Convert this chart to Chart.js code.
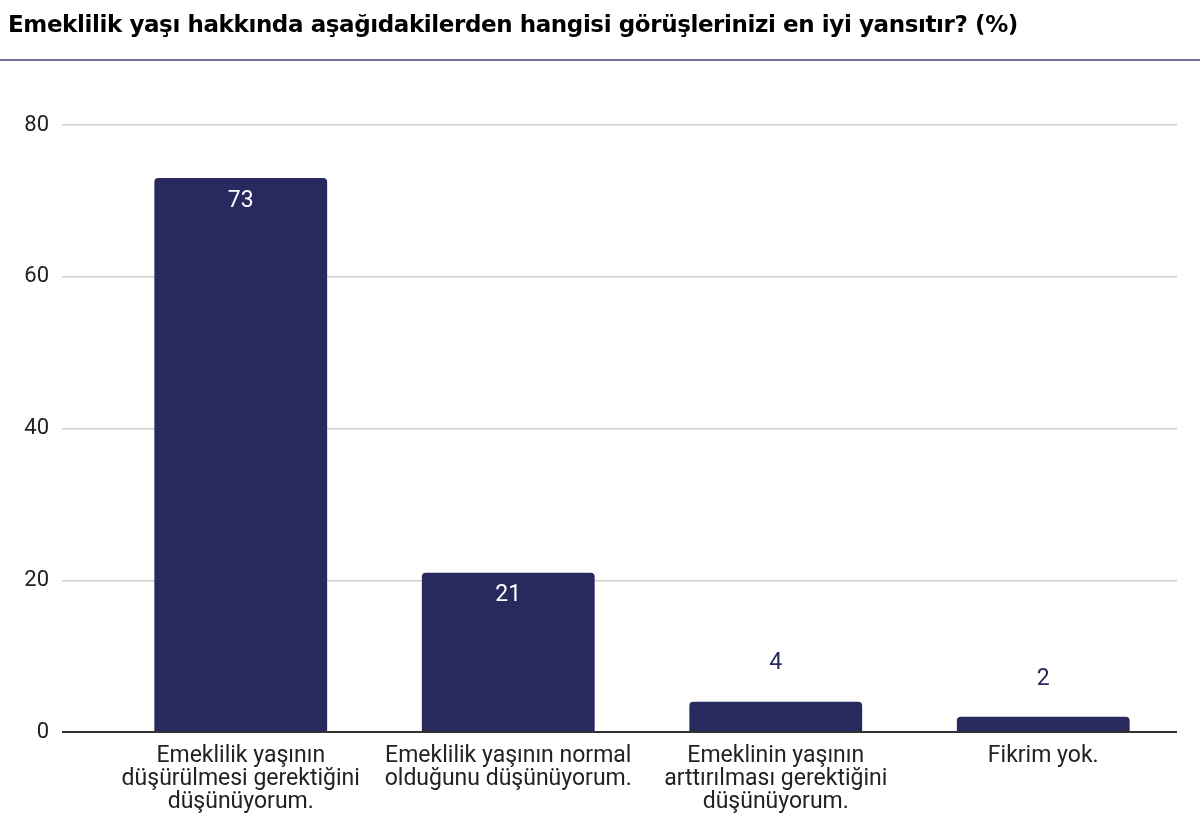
<!DOCTYPE html>
<html>
<head>
<meta charset="utf-8">
<script src="https://cdn.jsdelivr.net/npm/chart.js@4"></script>
<style>
  body { margin: 0; background: #fff; }
  #title {
    position: absolute; left: 8px; top: 11px;
    font-family: "DejaVu Sans", sans-serif; font-weight: bold;
    font-size: 23px; color: #000; white-space: nowrap; letter-spacing: -0.4px;
  }
  #divider { position: absolute; left: 0; top: 59px; width: 1200px; height: 2px; background: #6e7199; }
  #wrap { position: absolute; left: 0; top: 0; width: 1200px; height: 826px; }
</style>
</head>
<body>
<div id="wrap"><canvas id="myChart"></canvas></div>
<div id="title">Emeklilik yaşı hakkında aşağıdakilerden hangisi görüşlerinizi en iyi yansıtır? (%)</div>
<div id="divider"></div>
<script>
const categories = [
  ['Emeklilik yaşının', 'düşürülmesi gerektiğini', 'düşünüyorum.'],
  ['Emeklilik yaşının normal', 'olduğunu düşünüyorum.'],
  ['Emeklinin yaşının', 'arttırılması gerektiğini', 'düşünüyorum.'],
  'Fikrim yok.'
];
const values = [73, 21, 4, 2];
const yTicks = [0, 20, 40, 60, 80];

const barColor = '#27295f';

// value labels: white inside tall bars, navy above short ones
const valueLabels = {
  id: 'valueLabels',
  afterDatasetsDraw(chart) {
    const ctx = chart.ctx;
    const meta = chart.getDatasetMeta(0);
    ctx.save();
    ctx.font = '23px Roboto';
    ctx.textAlign = 'center';
    ctx.textBaseline = 'middle';
    meta.data.forEach((bar, i) => {
      const h = bar.base - bar.y;
      if (h > 60) {
        ctx.fillStyle = '#ffffff';
        ctx.fillText(values[i], bar.x, bar.y + 23);
      } else {
        ctx.fillStyle = barColor;
        ctx.fillText(values[i], bar.x, bar.y - 38);
      }
    });
    ctx.restore();
  }
};

const myChart = new Chart(document.getElementById('myChart'), {
  type: 'bar',
  data: {
    labels: categories,
    datasets: [{
      data: values,
      backgroundColor: barColor,
      borderRadius: { topLeft: 4, topRight: 4 },
      borderSkipped: 'bottom',
      categoryPercentage: 1,
      barPercentage: 0.646
    }]
  },
  options: {
    responsive: true,
    maintainAspectRatio: false,
    animation: false,
    layout: { padding: { top: 125, right: 23, bottom: 0, left: 0 } },
    plugins: { legend: { display: false }, tooltip: { enabled: false } },
    scales: {
      x: {
        afterFit: s => { s.height = 94; },
        grid: { display: false },
        border: { display: false },
        ticks: {
          color: '#222', font: { family: 'Roboto', size: 23, lineHeight: 1.0 },
          padding: 5, maxRotation: 0, autoSkip: false
        }
      },
      y: {
        min: 0, max: 80,
        afterBuildTicks: s => { s.ticks = yTicks.map(v => ({ value: v })); },
        afterFit: s => { s.width = 107; },
        border: { display: false },
        grid: {
          color: c => c.tick && c.tick.value === 0 ? '#333' : '#d0d0d0',
          lineWidth: c => c.tick && c.tick.value === 0 ? 2 : 1.5,
          drawTicks: true,
          tickLength: 45
        },
        ticks: { color: '#222', font: { family: 'Roboto', size: 22 }, padding: 13 }
      }
    }
  },
  plugins: [valueLabels]
});
</script>
</body>
</html>
